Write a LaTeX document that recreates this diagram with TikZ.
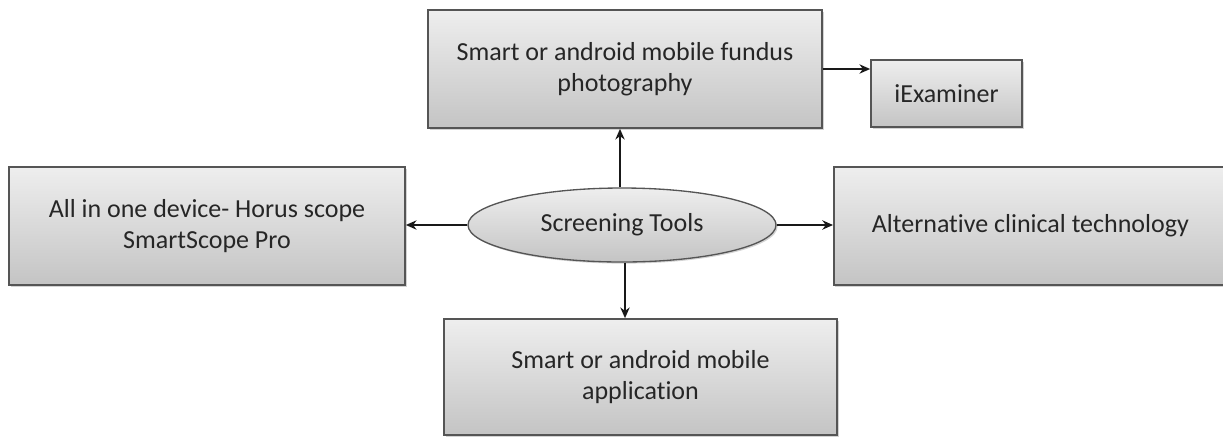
\documentclass[tikz,border=0pt]{standalone}
\usepackage{fontspec}
\setmainfont{Carlito}[Ligatures=NoCommon]
\usetikzlibrary{shapes.geometric,arrows.meta,shadows}
\definecolor{boxline}{HTML}{555555}
\definecolor{boxtop}{HTML}{EEEEEE}
\definecolor{boxbot}{HTML}{C4C4C4}
\definecolor{txt}{HTML}{262626}
\tikzset{
  shadedbox/.style={draw=boxline, line width=1.3pt, top color=boxtop, bottom color=boxbot,
    drop shadow={shadow xshift=1.2pt, shadow yshift=-1.2pt, opacity=0.35},
    align=center, text=txt, font=\fontsize{19.5}{23}\selectfont, inner sep=0pt},
  oval/.style={ellipse, draw=boxline, line width=1pt, top color=boxtop, bottom color=boxbot,
    drop shadow={shadow xshift=1.2pt, shadow yshift=-1.2pt, opacity=0.35},
    text=txt, font=\fontsize{19.5}{23}\selectfont, inner sep=0pt},
  conn/.style={line width=1.5pt, black!90, -{Stealth[length=8pt,width=7pt]}}
}
\begin{document}
\begin{tikzpicture}[x=0.75pt,y=-0.75pt]
\useasboundingbox (0,0) rectangle (1223,437);
\node[shadedbox, minimum width=295.5pt, minimum height=88.5pt] (top) at (625,69)
  {Smart or android mobile fundus\\photography};
\node[shadedbox, minimum width=113.25pt, minimum height=50.25pt] (iex) at (946.5,93.5) {iExaminer};
\node[shadedbox, minimum width=297pt, minimum height=88.5pt] (left) at (207,226)
  {All in one device- Horus scope\\SmartScope Pro};
\node[shadedbox, minimum width=294.75pt, minimum height=88.5pt, anchor=west] (right) at (833,226)
  {Alternative clinical technology};
\node[shadedbox, minimum width=294.75pt, minimum height=87pt] (bottom) at (640.5,377)
  {Smart or android mobile\\application};
\node[oval, minimum width=231pt, minimum height=55.5pt] (st) at (622,225) {Screening Tools};
\coordinate (iexin) at (iex.west |- top.east);
\draw[conn] (top.east) -- (iexin);
\draw[conn] (st.north -| 620,0) -- (top.south -| 620,0);
\draw[conn] (st.south -| 625,0) -- (bottom.north -| 625,0);
\draw[conn] (st.west) -- (left.east |- st.west);
\draw[conn] (st.east) -- (right.west |- st.east);
\end{tikzpicture}
\end{document}
